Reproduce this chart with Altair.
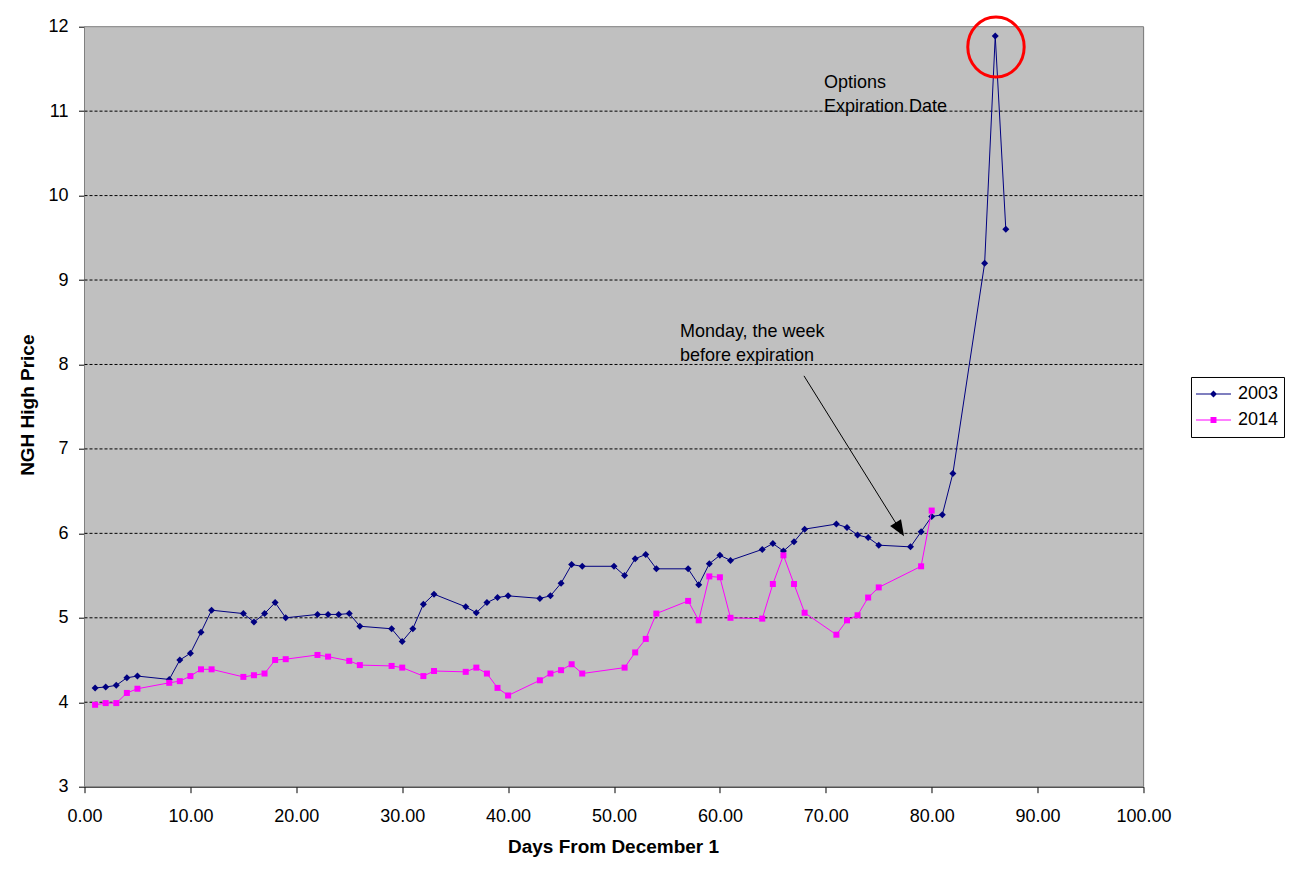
import altair as alt
import pandas as pd

# ---- data ----
days_2003 = [1, 2, 3, 4, 5, 8, 9, 10, 11, 12, 15, 16, 17, 18, 19, 22, 23, 24, 25, 26,
             29, 30, 31, 32, 33, 36, 37, 38, 39, 40, 43, 44, 45, 46, 47, 50, 51, 52, 53, 54,
             57, 58, 59, 60, 61, 64, 65, 66, 67, 68, 71, 72, 73, 74, 75, 78, 79, 80, 81, 82,
             85, 86, 87]
vals_2003 = [4.17, 4.18, 4.20, 4.29, 4.31, 4.27, 4.50, 4.58, 4.83, 5.09, 5.05, 4.95, 5.05, 5.18, 5.00,
             5.04, 5.04, 5.04, 5.05, 4.90, 4.87, 4.72, 4.87, 5.16, 5.28, 5.13, 5.06, 5.18, 5.24, 5.26,
             5.23, 5.26, 5.41, 5.63, 5.61, 5.61, 5.50, 5.70, 5.75, 5.58, 5.58, 5.39, 5.64, 5.74, 5.68,
             5.81, 5.88, 5.79, 5.90, 6.05, 6.11, 6.07, 5.98, 5.95, 5.86, 5.84, 6.02, 6.20, 6.22, 6.71,
             9.20, 11.89, 9.60]

days_2014 = [1, 2, 3, 4, 5, 8, 9, 10, 11, 12, 15, 16, 17, 18, 19, 22, 23, 25, 26, 29,
             30, 32, 33, 36, 37, 38, 39, 40, 43, 44, 45, 46, 47, 51, 52, 53, 54, 57, 58, 59,
             60, 61, 64, 65, 66, 67, 68, 71, 72, 73, 74, 75, 79, 80]
vals_2014 = [3.97, 3.99, 3.99, 4.11, 4.16, 4.23, 4.25, 4.31, 4.39, 4.39, 4.30, 4.32, 4.34, 4.50, 4.51,
             4.56, 4.54, 4.49, 4.44, 4.43, 4.41, 4.31, 4.37, 4.36, 4.41, 4.34, 4.17, 4.08, 4.26, 4.34,
             4.38, 4.45, 4.34, 4.41, 4.59, 4.75, 5.05, 5.20, 4.97, 5.49, 5.48, 5.00, 4.99, 5.40, 5.74,
             5.40, 5.06, 4.80, 4.97, 5.03, 5.24, 5.36, 5.61, 6.27]

series_names = ["2003", "2014"]
series_colors = ["#000080", "#FF00FF"]

x_ticks = [0, 10, 20, 30, 40, 50, 60, 70, 80, 90, 100]
y_ticks = [3, 4, 5, 6, 7, 8, 9, 10, 11, 12]
grid_values = [4, 5, 6, 7, 8, 9, 10, 11]

note_text = ["Options", "Expiration Date", "Monday, the week", "before expiration"]
note_day = [69.83, 69.83, 56.23, 56.23]
note_val = [11.277, 10.993, 8.327, 8.04]

arrow_start = [67.94, 7.865]
arrow_head = [76.99, 6.046]
circle_center = [86.07, 11.76]

# ---- frames ----
df03 = pd.DataFrame({"day": days_2003, "price": vals_2003})
df14 = pd.DataFrame({"day": days_2014, "price": vals_2014})
notes = pd.DataFrame({"text": note_text, "day": note_day, "price": note_val})
arrow_df = pd.DataFrame({"x": [arrow_start[0]], "y": [arrow_start[1]],
                         "x2": [arrow_head[0]], "y2": [arrow_head[1]]})
head_df = pd.DataFrame({"day": [arrow_head[0]], "price": [arrow_head[1]]})
circle_df = pd.DataFrame({"day": [circle_center[0]], "price": [circle_center[1]]})
legend_df = pd.DataFrame({"series": series_names, "day": [0, 0], "price": [3, 3]})
grid_df = pd.DataFrame({"price": grid_values})
bg_df = pd.DataFrame({"k": [0]})

FONT = "Liberation Sans"

x_scale = alt.Scale(domain=[0, 100], nice=False, zero=False)
y_scale = alt.Scale(domain=[3, 12], nice=False, zero=False)

x_axis = alt.Axis(values=x_ticks, format=".2f", title="Days From December 1", grid=False,
                  tickSize=6, tickColor="black", domainColor="black", labelColor="black",
                  labelFontSize=18, labelFont=FONT, labelPadding=28.5, labelBaseline="alphabetic",
                  labelFlush=False, labelOverlap=False,
                  titleFontSize=19, titleFont=FONT, titleFontWeight="bold", titleColor="black",
                  titleX=528.5, titleY=65.7, titleBaseline="alphabetic", titleAlign="center")

y_axis = alt.Axis(values=y_ticks, format="d", title="NGH High Price", grid=False,
                  tickSize=6, tickColor="black", domainColor="black", labelColor="black",
                  labelFontSize=18, labelFont=FONT, labelPadding=10.5,
                  titleFontSize=19, titleFont=FONT, titleFontWeight="bold", titleColor="black",
                  titleX=-57.5, titleY=378, titleAngle=270, titleAlign="center",
                  titleBaseline="middle")

X = alt.X("day:Q", scale=x_scale, axis=x_axis)
Y = alt.Y("price:Q", scale=y_scale, axis=y_axis)

# plot-area background (gray, as in the Excel chart)
bg = alt.Chart(bg_df).mark_rect(color="#C0C0C0", stroke="#808080", strokeWidth=1).encode(
    x=alt.value(0), x2=alt.value("width"), y=alt.value(0), y2=alt.value("height"))

grid = alt.Chart(grid_df).mark_rule(color="black", strokeWidth=1, strokeDash=[3, 2]).encode(
    y=alt.Y("price:Q", scale=y_scale, axis=y_axis), x=alt.value(0), x2=alt.value("width"))

line03 = alt.Chart(df03).mark_line(color=series_colors[0], strokeWidth=1).encode(x=X, y=Y)
pts03 = alt.Chart(df03).mark_point(shape="diamond", filled=True, size=49, color=series_colors[0],
                                   opacity=1).encode(x="day:Q", y="price:Q")
line14 = alt.Chart(df14).mark_line(color=series_colors[1], strokeWidth=1).encode(x="day:Q", y="price:Q")
pts14 = alt.Chart(df14).mark_point(shape="square", filled=True, size=36, color=series_colors[1],
                                   opacity=1).encode(x="day:Q", y="price:Q")

texts = alt.Chart(notes).mark_text(align="left", baseline="alphabetic", fontSize=18, font=FONT,
                                   color="black").encode(x="day:Q", y="price:Q", text="text:N")

rule = alt.Chart(arrow_df).mark_rule(color="black", strokeWidth=1).encode(
    x="x:Q", y="y:Q", x2="x2:Q", y2="y2:Q")
head = alt.Chart(head_df).mark_point(shape="M0,-1L0.8,1L-0.8,1Z", filled=True, color="black",
                                     size=256, angle=148, opacity=1).encode(x="day:Q", y="price:Q")

ring = alt.Chart(circle_df).mark_point(
    shape="M-0.94,0A0.94,1,0,1,0,0.94,0A0.94,1,0,1,0,-0.94,0Z",
    filled=False, color="#FF0000", strokeWidth=3, size=3600, opacity=1
).encode(x="day:Q", y="price:Q")

# legend symbols: thin filled bar (the line) plus the marker
legend_paths = ["M-1,-0.03L1,-0.03L1,0.03L-1,0.03ZM0,-0.2L0.2,0L0,0.2L-0.2,0Z",
                "M-1,-0.03L1,-0.03L1,0.03L-1,0.03ZM-0.17,-0.17L0.17,-0.17L0.17,0.17L-0.17,0.17Z"]

leg = dict(orient="none", legendX=1106.5, legendY=350.3, title=None, strokeColor="black",
           fillColor="white", padding=5, symbolSize=1225, symbolStrokeWidth=0,
           symbolOpacity=1, labelFontSize=18, labelFont=FONT, labelColor="black",
           labelOffset=7, clipHeight=24, rowPadding=2)

legend_layer = alt.Chart(legend_df).transform_filter("false").mark_point(
    filled=True, size=1225, opacity=1
).encode(
    x="day:Q", y="price:Q",
    color=alt.Color("series:N", scale=alt.Scale(domain=series_names, range=series_colors),
                    legend=alt.Legend(**leg)),
    shape=alt.Shape("series:N", scale=alt.Scale(domain=series_names, range=legend_paths),
                    legend=alt.Legend(**leg)),
)

chart = alt.layer(bg, grid, line03, pts03, line14, pts14, rule, head, texts, ring,
                  legend_layer).properties(
    width=1059, height=760,
    padding={"left": 76.5, "top": 18.7, "right": 141, "bottom": 75},
    autosize=alt.AutoSizeParams(type="none"),
    background="white",
).configure_view(stroke=None).configure(font=FONT)

chart.save("out.html", embed_options={"renderer": "svg", "actions": False})
